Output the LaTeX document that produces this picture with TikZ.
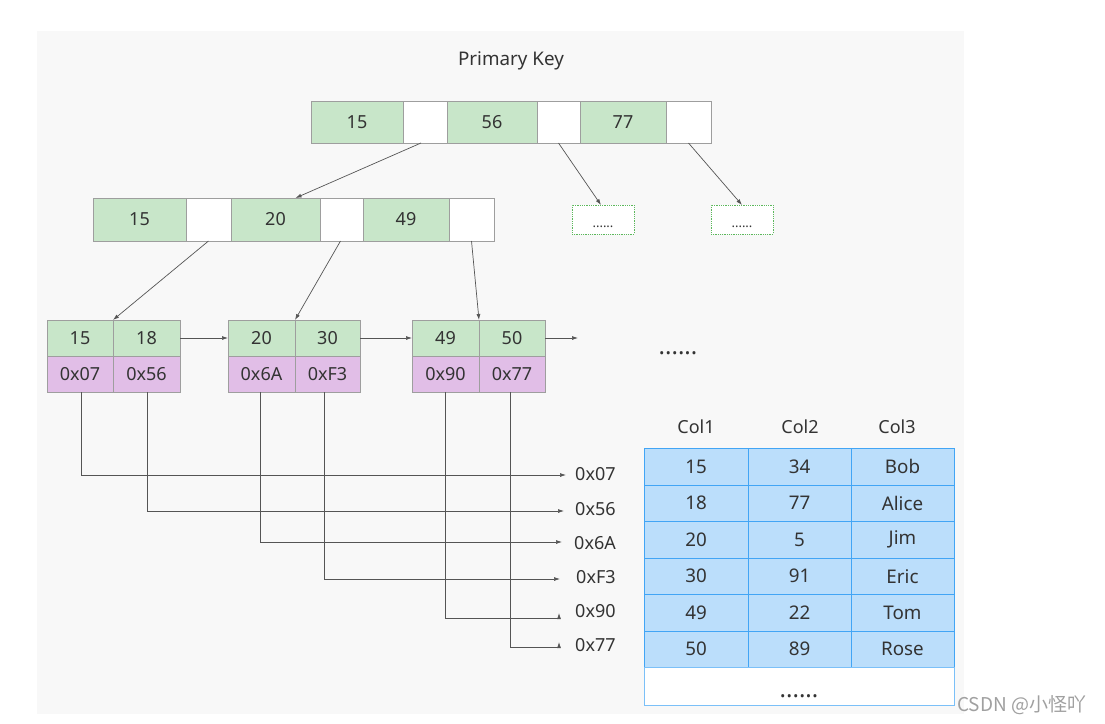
\documentclass[tikz,border=0pt]{standalone}
\usepackage{fontspec}
\setmainfont{Noto Sans}
\newfontfamily\cjk{Noto Sans CJK SC}
\usetikzlibrary{arrows.meta}
\definecolor{bgc}{HTML}{F8F8F8}
\definecolor{gfill}{HTML}{C8E6C9}
\definecolor{pfill}{HTML}{E1BEE7}
\definecolor{cbord}{HTML}{9E9E9E}
\definecolor{txt}{HTML}{333333}
\definecolor{tfill}{HTML}{BBDEFB}
\definecolor{tbord}{HTML}{42A5F5}
\definecolor{dgreen}{HTML}{5CB85C}
\definecolor{lineg}{HTML}{555555}
\definecolor{wmark}{HTML}{A0A0A0}
\begin{document}
\begin{tikzpicture}[x=1pt,y=-1pt,
  basefont/.style={font=\fontsize{18}{21}\selectfont},
  bigfont/.style={font=\fontsize{18.8}{22}\selectfont},
  cell/.style={draw=cbord, line width=0.7pt, inner sep=0pt, outer sep=0pt, anchor=north west, text=txt, basefont},
  kcell/.style={cell, fill=gfill},
  wcell/.style={cell, fill=white},
  pcell/.style={cell, fill=pfill},
  dotbox/.style={draw=dgreen, densely dotted, line width=0.8pt, fill=white, inner sep=0pt, outer sep=0pt, anchor=north west, minimum width=62, minimum height=29, text=txt, font=\fontsize{13}{14}\selectfont},
  tcell/.style={draw=tbord, line width=0.7pt, fill=tfill, inner sep=0pt, outer sep=0pt, anchor=north west, minimum height=36.5, text=txt, bigfont},
  lbl/.style={text=txt, inner sep=0pt, basefont},
  dots/.style={text=txt, font=\fontsize{24}{26}\selectfont\bfseries},
  ptr/.style={draw=lineg, line width=0.7pt, -{Latex[length=6pt,width=4pt]}}
]
\useasboundingbox (0,0) rectangle (1105,723);
\fill[white] (0,0) rectangle (1105,723);
\fill[bgc] (37,31) rectangle (964,714);

\node[lbl, bigfont] (title) at (511,61) {Primary Key};

% root
\begin{scope}[every node/.append style={minimum height=42}]
\node[kcell, minimum width=92] (r1)  at (311,101) {15};
\node[wcell, minimum width=44] (r1p) at (403,101) {};
\node[kcell, minimum width=90] (r2)  at (447,101) {56};
\node[wcell, minimum width=43] (r2p) at (537,101) {};
\node[kcell, minimum width=86] (r3)  at (580,101) {77};
\node[wcell, minimum width=45] (r3p) at (666,101) {};
\end{scope}

% level 2
\begin{scope}[every node/.append style={minimum height=43}]
\node[kcell, minimum width=93] (a1)  at (93,198) {15};
\node[wcell, minimum width=45] (a1p) at (186,198) {};
\node[kcell, minimum width=89] (a2)  at (231,198) {20};
\node[wcell, minimum width=43] (a2p) at (320,198) {};
\node[kcell, minimum width=86] (a3)  at (363,198) {49};
\node[wcell, minimum width=45] (a3p) at (449,198) {};
\end{scope}

\node[dotbox] (d1) at (572,205) {\raisebox{-8pt}[0pt][0pt]{......}};
\node[dotbox] (d2) at (711,205) {\raisebox{-8pt}[0pt][0pt]{......}};

% leaves
\begin{scope}[every node/.append style={minimum height=36}]
\node[kcell, minimum width=66] (k11) at (47,320) {15};
\node[kcell, minimum width=67] (k12) at (113,320) {18};
\node[pcell, minimum width=66] (p11) at (47,356) {0x07};
\node[pcell, minimum width=67] (p12) at (113,356) {0x56};
\node[kcell, minimum width=67] (k21) at (228,320) {20};
\node[kcell, minimum width=65] (k22) at (295,320) {30};
\node[pcell, minimum width=67] (p21) at (228,356) {0x6A};
\node[pcell, minimum width=65] (p22) at (295,356) {0xF3};
\node[kcell, minimum width=67] (k31) at (412,320) {49};
\node[kcell, minimum width=66] (k32) at (479,320) {50};
\node[pcell, minimum width=67] (p31) at (412,356) {0x90};
\node[pcell, minimum width=66] (p32) at (479,356) {0x77};
\end{scope}

\node[dots, inner sep=0pt] (more) at (678,353) {......};

% tree arrows
\draw[ptr] ([xshift=-4]r1p.south) -- ([xshift=20]a2.north);
\draw[ptr] (r2p.south) -- ([xshift=-2]d1.north);
\draw[ptr] (r3p.south) -- (d2.north);
\draw[ptr] (a1p.south) -- (k11.north east);
\draw[ptr] ([xshift=-1]a2p.south) -- (k21.north east);
\draw[ptr] (a3p.south) -- (k31.north east);

% leaf links
\coordinate (nx) at (578,338);
\draw[ptr] (k12.east) -- (k21.west);
\draw[ptr] (k22.east) -- (k31.west);
\draw[ptr] (k32.east) -- (nx);

% address labels
\node[lbl, anchor=west] (l1) at (575,474) {0x07};
\node[lbl, anchor=west] (l2) at (575,509) {0x56};
\node[lbl, anchor=west] (l3) at (574,543) {0x6A};
\node[lbl, anchor=west] (l4) at (576,577) {0xF3};
\node[lbl, anchor=west] (l5) at (575,611) {0x90};
\node[lbl, anchor=west] (l6) at (575,645) {0x77};

\coordinate (e1) at (566,475);
\coordinate (e2) at (564,511);
\coordinate (e3) at (562,542);
\coordinate (e4) at (560,579);
\coordinate (e5) at (559,618);
\coordinate (e6) at (559,647);
\draw[ptr] ([xshift=1]p11.south) |- (e1);
\draw[ptr] ([xshift=1]p12.south) |- (e2);
\draw[ptr] ([xshift=-1]p21.south) |- (e3);
\draw[ptr] ([xshift=-3]p22.south) |- (e4);
\draw[ptr] (p31.south) |- (e5) -- ++(0,-5);
\draw[ptr] ([xshift=-2]p32.south) |- (e6) -- ++(0,-5);

% table
\node[lbl] (h1) at (696,427) {Col1};
\node[lbl] (h2) at (800,427) {Col2};
\node[lbl] (h3) at (897,427) {Col3};
\foreach \va/\vb/\vc [count=\i from 0] in {15/34/Bob,18/77/Alice,20/5/Jim,30/91/Eric,49/22/Tom,50/89/Rose}{
  \node[tcell, minimum width=104] (ta\i) at (644,{448.5+36.5*\i}) {\va};
  \node[tcell, minimum width=103] (tb\i) at (748,{448.5+36.5*\i}) {\vb};
  \node[tcell, minimum width=103] (tc\i) at (851,{448.5+36.5*\i}) {\vc};
}
\node[draw=tbord!70, line width=0.7pt, fill=white, inner sep=0pt, outer sep=0pt, anchor=north west, minimum width=310, minimum height=38, dots] (tmore) at (644,667.5) {\raisebox{-11pt}[0pt][0pt]{......}};

\node[text=wmark, inner sep=0pt, anchor=west, font=\cjk\fontsize{19}{21}\selectfont] (wm) at (957,705) {CSDN @小怪吖};
\end{tikzpicture}
\end{document}
